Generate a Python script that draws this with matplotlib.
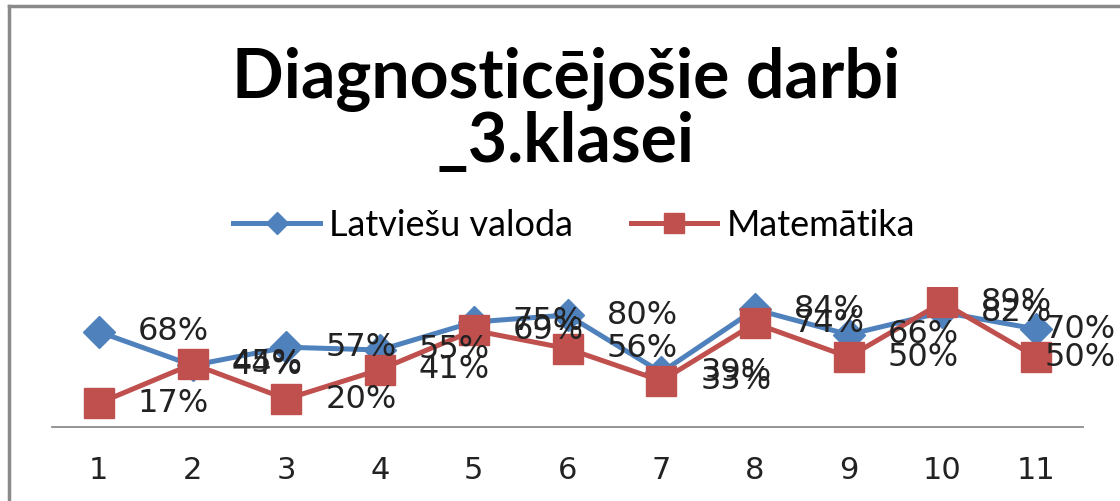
import matplotlib.pyplot as plt
from matplotlib.lines import Line2D

# dati
klases = ['1', '2', '3', '4', '5', '6', '7', '8', '9', '10', '11']
latviesu = [68, 44, 57, 55, 75, 80, 39, 84, 66, 82, 70]
matematika = [17, 45, 20, 41, 69, 56, 33, 74, 50, 89, 50]

zils = '#4F81BD'
sarkans = '#C0504D'

fig = plt.figure(figsize=(11.2, 5.01), dpi=100)
ax = fig.add_axes([52 / 1120, 1 - 427 / 501, (1083 - 52) / 1120, 140 / 501])

x = list(range(1, len(klases) + 1))
ax.plot(x, latviesu, color=zils, lw=3.6, marker='D', ms=16,
        label='Latviešu valoda', zorder=3)
ax.plot(x, matematika, color=sarkans, lw=3.6, marker='s', ms=21,
        label='Matemātika', zorder=3)

# datu etiķetes pa labi no punktiem (pēdējās pievilktas iekšā)
for serija in (latviesu, matematika):
    for xi, v in zip(x, serija):
        dx = 6 if xi == x[-1] else 28
        ax.annotate(f'{v}%', (xi, v), xytext=(dx, 0), textcoords='offset points',
                    ha='left', va='center', fontsize=23, color='#222222',
                    family='DejaVu Sans', zorder=5, annotation_clip=False)

ax.set_xlim(0.5, 11.5)
ax.set_ylim(0, 100)
ax.set_xticks(x)
ax.set_xticklabels(klases, fontsize=22, family='DejaVu Sans', color='#222222')
ax.set_yticks([])
ax.tick_params(axis='x', length=0, pad=21)
for s in ['top', 'left', 'right']:
    ax.spines[s].set_visible(False)
ax.spines['bottom'].set_color('#8c8c8c')
ax.spines['bottom'].set_linewidth(1.3)
ax.patch.set_alpha(0)

# virsraksts
fig.text(566 / 1120, 1 - 98 / 501, 'Diagnosticējošie darbi', ha='center',
         va='baseline', fontsize=49, fontweight='bold', family='Lato')
fig.text(566 / 1120, 1 - 162 / 501, '_3.klasei', ha='center',
         va='baseline', fontsize=49, fontweight='bold', family='Lato')

fig.legend(loc='center', bbox_to_anchor=(574 / 1120, 1 - 225 / 501), ncol=2,
           frameon=False, prop={'family': 'Lato', 'size': 26},
           handlelength=2.4, handletextpad=0.25, columnspacing=1.6,
           markerscale=0.7)

# rāmis
fig.add_artist(Line2D([9 / 1120, 9 / 1120], [0, 1 - 6 / 501], color='#8a8a8a', lw=2.5))
fig.add_artist(Line2D([9 / 1120, 1], [1 - 6 / 501, 1 - 6 / 501], color='#8a8a8a', lw=2.5))

fig.savefig('out.png', dpi=100)
